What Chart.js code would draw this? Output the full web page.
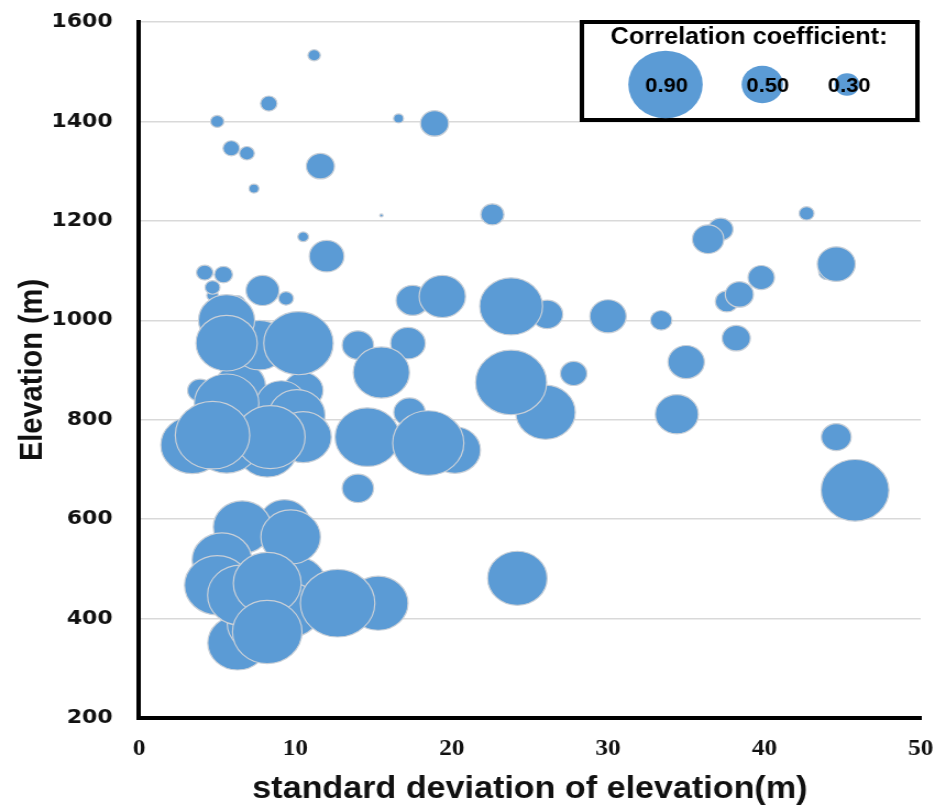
<!DOCTYPE html>
<html>
<head>
<meta charset="utf-8">
<title>Elevation vs standard deviation</title>
<script src="https://cdn.jsdelivr.net/npm/chart.js@4.4.1/dist/chart.umd.min.js"></script>
<style>
  html, body { margin: 0; padding: 0; background: #fff; overflow: hidden; }
  /* the chart is drawn a little narrow and stretched sideways, so bubbles come out slightly oval */
  #wrap { width: 857px; height: 807px; transform: scaleX(1.1); transform-origin: 0 0; }
</style>
</head>
<body>
<div id="wrap"><canvas id="bubbleChart" width="857" height="807"></canvas></div>
<script>
// standard deviation of elevation (m)
const stdDev = [
  11.2, 8.3, 5.0, 16.6, 18.9, 5.9, 6.9, 11.6, 7.35, 15.5,
  22.6, 10.5, 12.0, 4.2, 5.4, 4.7, 4.7, 7.9, 9.4, 6.3,
  17.5, 19.4, 5.6, 5.6, 10.2, 7.7, 14.0, 17.2, 15.5, 3.9,
  6.5, 5.6, 9.1, 10.1, 10.5, 3.4, 4.7, 5.6, 8.4, 8.2,
  10.5, 14.6, 17.3, 18.5, 20.2, 14.0, 37.2, 36.4, 42.7, 44.6,
  44.0, 39.8, 37.6, 38.4, 38.2, 33.4, 30.0, 23.8, 26.1, 35.0,
  23.8, 26.0, 27.8, 34.4, 44.6, 45.8, 24.2, 6.6, 9.3, 9.7,
  5.3, 5.0, 6.5, 8.2, 10.1, 8.2, 6.3, 7.7, 9.7, 12.7,
  15.3
];
// mean elevation (m)
const elevation = [
  1533, 1436, 1400, 1406, 1396, 1346, 1336, 1310, 1265, 1211,
  1213, 1168, 1129, 1096, 1092, 1066, 1050, 1060, 1044, 1036,
  1040, 1048, 1000, 954, 954, 950, 950, 954, 895, 859,
  869, 833, 833, 809, 859, 749, 769, 753, 765, 739,
  765, 765, 815, 753, 739, 662, 1183, 1163, 1215, 1113,
  1097, 1086, 1038, 1052, 964, 1000, 1008, 1028, 1012, 916,
  875, 815, 893, 811, 765, 658, 481, 584, 594, 564,
  518, 467, 447, 471, 471, 373, 351, 391, 417, 431,
  431
];
// correlation coefficient, shown as bubble size
const corrCoef = [
  0.15, 0.20, 0.16, 0.12, 0.34, 0.20, 0.18, 0.34, 0.12, 0.04,
  0.28, 0.13, 0.42, 0.20, 0.22, 0.18, 0.14, 0.40, 0.18, 0.18,
  0.40, 0.56, 0.68, 0.74, 0.84, 0.66, 0.38, 0.42, 0.68, 0.30,
  0.60, 0.78, 0.60, 0.68, 0.48, 0.76, 0.90, 0.80, 0.84, 0.72,
  0.68, 0.78, 0.38, 0.86, 0.62, 0.38, 0.30, 0.38, 0.18, 0.46,
  0.20, 0.32, 0.28, 0.34, 0.34, 0.26, 0.44, 0.76, 0.38, 0.44,
  0.86, 0.72, 0.32, 0.52, 0.36, 0.82, 0.72, 0.70, 0.60, 0.72,
  0.72, 0.79, 0.80, 0.82, 0.70, 0.84, 0.72, 0.78, 0.72, 0.90,
  0.72
];
const yTicks = [200, 400, 600, 800, 1000, 1200, 1400, 1600];
const xTicks = [0, 10, 20, 30, 40, 50];
const legendValues = [0.90, 0.50, 0.30];

const BLUE = '#5b9bd5';
const bubbleRadius = v => v * 37.6;

// small bubbles first so the big ones sit on top
const points = stdDev.map((x, i) => ({ x: x, y: elevation[i], c: corrCoef[i] }))
  .sort((a, b) => a.c - b.c)
  .map(p => ({ x: p.x, y: p.y, r: bubbleRadius(p.c) }));

// boxed size key in the top right corner
const sizeLegend = {
  id: 'sizeLegend',
  afterDraw(chart) {
    const c = chart.ctx;
    const cx = [605, 693, 770];
    const lx = [606, 698, 772];
    c.save();
    c.fillStyle = '#fff';
    c.fillRect(529, 22, 305, 98);
    c.lineWidth = 4;
    c.strokeStyle = '#000';
    c.strokeRect(529, 22, 305, 98);
    c.fillStyle = '#000';
    c.textAlign = 'center';
    c.textBaseline = 'middle';
    c.font = 'bold 23px "Liberation Sans", Arial, sans-serif';
    c.fillText('Correlation coefficient:', 681, 38);
    legendValues.forEach((v, i) => {
      c.beginPath();
      c.arc(cx[i], 84.5, bubbleRadius(v), 0, Math.PI * 2);
      c.fillStyle = BLUE;
      c.fill();
      c.fillStyle = '#000';
      c.font = 'bold 20px "Liberation Sans", Arial, sans-serif';
      c.fillText(v.toFixed(2), lx[i], 86);
    });
    c.restore();
  }
};

const ctx = document.getElementById('bubbleChart').getContext('2d');

const elevChart = new Chart(ctx, {
  type: 'bubble',
  data: {
    datasets: [{
      label: 'Correlation coefficient',
      data: points,
      backgroundColor: BLUE,
      borderColor: '#c9d0d8',
      borderWidth: 1.2
    }]
  },
  options: {
    responsive: false,
    animation: false,
    layout: {
      autoPadding: false,
      padding: { top: 22, right: 20, bottom: 0, left: 0 }
    },
    plugins: {
      legend: { display: false },
      tooltip: { enabled: false }
    },
    events: [],
    scales: {
      x: {
        type: 'linear',
        min: 0,
        max: 50,
        afterBuildTicks: axis => { axis.ticks = xTicks.map(v => ({ value: v })); },
        afterFit: axis => {
          axis.height = 89;
          axis.paddingLeft = 0;
          axis.paddingRight = 0;
        },
        grid: { display: false, drawTicks: false },
        border: { display: true, color: '#000', width: 4 },
        ticks: {
          color: '#111',
          padding: 17,
          callback: v => String(v),
          font: { family: '"Liberation Serif", "DejaVu Serif", serif', weight: 'bold', size: 23 }
        },
        title: {
          display: true,
          text: 'standard deviation of elevation(m)',
          color: '#111',
          padding: { top: 0, bottom: 0 },
          font: { family: '"Liberation Sans", Arial, sans-serif', weight: 'bold', size: 31, lineHeight: 1.1 }
        }
      },
      y: {
        type: 'linear',
        min: 200,
        max: 1600,
        afterBuildTicks: axis => { axis.ticks = yTicks.map(v => ({ value: v })); },
        afterFit: axis => {
          axis.width = 126.4;
          axis.paddingTop = 0;
          axis.paddingBottom = 0;
        },
        grid: { color: '#d9d9d9', lineWidth: 1.5, drawTicks: false },
        border: { display: true, color: '#000', width: 4 },
        ticks: {
          color: '#111',
          padding: 24,
          callback: v => String(v),
          font: { family: '"DejaVu Sans", Verdana, sans-serif', weight: 'bold', size: 20 }
        },
        title: {
          display: true,
          text: 'Elevation (m)',
          color: '#111',
          padding: { top: 13, bottom: 0 },
          font: { family: '"Liberation Sans", Arial, sans-serif', weight: 'bold', size: 29 }
        }
      }
    }
  },
  plugins: [sizeLegend]
});
</script>
</body>
</html>
